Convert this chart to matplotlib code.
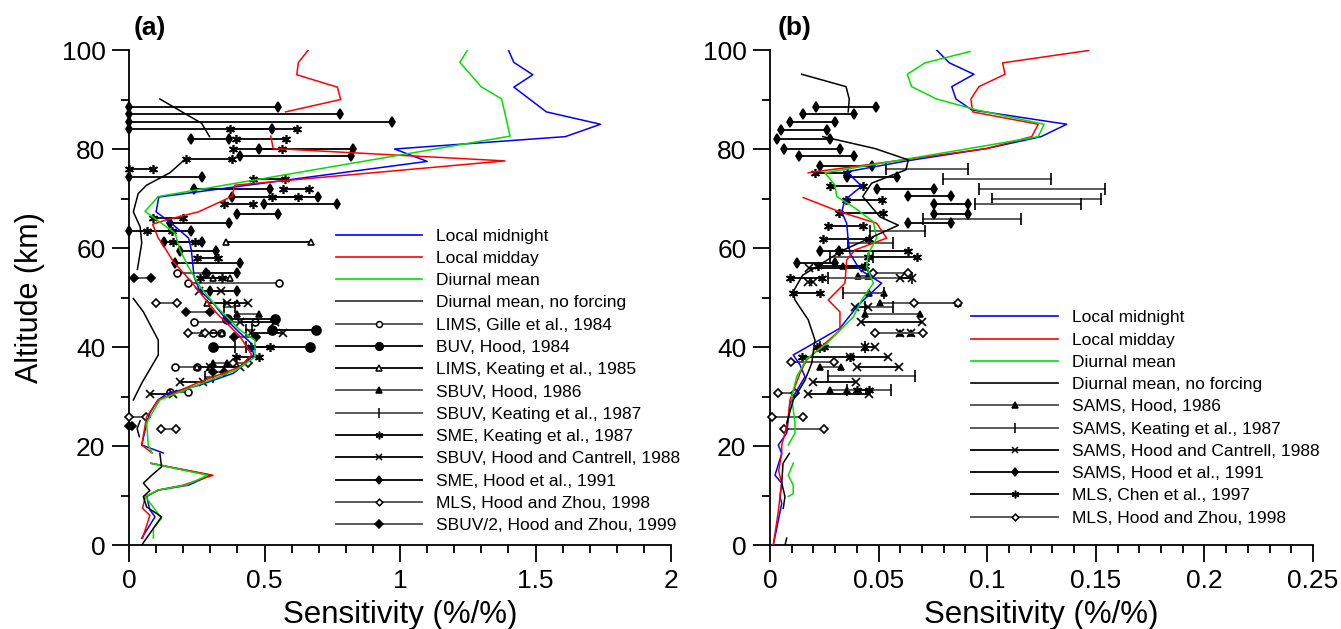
import numpy as np
import matplotlib.pyplot as plt
from matplotlib.lines import Line2D

plt.rcParams['font.family'] = ['Liberation Sans', 'DejaVu Sans']

nan = np.nan

# ---- panel (a): model sensitivity profiles (x = %/%, z = km), nan = gap
a_mid_x = [1.40, 1.42, 1.49, 1.42, 1.54, 1.74, 1.61, 0.98, 1.10, 0.11, 0.10, 0.15, 0.22, 0.23, 0.24, 0.26,
           0.31, 0.36, 0.41, 0.45, 0.46, 0.43, 0.385, 0.26, 0.14, 0.107, 0.077, 0.065, 0.047, 0.126, nan,
           0.082, 0.30, 0.22, 0.108, 0.065, 0.077, 0.096, 0.047]
a_mid_z = [100, 97.5, 95, 92.5, 87.5, 85, 82.5, 80, 77.5, 70.3, 67.3, 65.3, 62, 59.6, 54.2, 51.5,
           48.9, 45.5, 42.8, 40.8, 38.4, 36.7, 34.7, 32.3, 30.6, 29.3, 26.7, 24.6, 20.2, 18.6, nan,
           16.5, 14.1, 12.1, 11.1, 9.8, 7.1, 5.7, 1.4]

a_day_x = [0.662, 0.625, 0.619, 0.769, 0.781, 0.578, nan,
           0.523, 0.532, 1.387, 0.391, 0.379, 0.256, 0.139, 0.087, 0.108, 0.127, 0.164, 0.225, 0.324,
           0.41, 0.453, 0.41, 0.25, 0.108, 0.065, 0.047, 0.085, nan,
           0.082, 0.31, 0.20, 0.108, 0.06, 0.05, 0.077, 0.05]
a_day_z = [100, 97.5, 95, 92.5, 90, 87.5, nan,
           82.6, 80.1, 77.6, 72.7, 70.4, 67.3, 65.7, 64.8, 62, 60.5, 57.2, 53.5, 46.8,
           42.1, 38.4, 36, 32.7, 29.3, 25.9, 20.2, 18.6, nan,
           16.5, 14.1, 12.1, 11.1, 9.8, 7.4, 6.0, 1.4]

a_mean_x = [1.249, 1.221, 1.299, 1.375, 1.406, 0.108, 0.059, 0.102, 0.17, 0.188, 0.219, 0.262, 0.324,
            0.41, 0.465, 0.465, 0.397, 0.237, 0.114, 0.077, 0.065, 0.071, 0.085, nan,
            0.082, 0.29, 0.21, 0.108, 0.06, 0.12, 0.09, 0.09]
a_mean_z = [100, 97.5, 92.6, 90.1, 82.6, 70.4, 67.4, 65.7, 63, 59.6, 56.2, 52.2, 48.1,
            43.4, 41.4, 38, 35.4, 32, 29.3, 25.9, 24.6, 20.2, 18.6, nan,
            16.5, 14.1, 12.1, 11.1, 9.8, 5.4, 3.4, 1.4]

a_nof_x = [0.114, 0.268, 0.297, nan,
           0.21, 0.151, 0.065, 0.034, 0.016, 0.041, 0.047, 0.031, nan,
           0.016, 0.053, 0.108, 0.108, 0.047, 0.016, nan,
           0.041, 0.03, 0.038, nan,
           0.114, 0.12, 0.084, 0.053, 0.077, 0.053, 0.065, 0.12, 0.047]
a_nof_z = [90.1, 85.2, 82.5, nan,
           78.1, 75.2, 72.7, 71, 67.3, 64.3, 61, 55.7, nan,
           49.8, 47.1, 41.4, 38.4, 32.7, 29.3, nan,
           25.1, 23.5, 21.9, nan,
           18.5, 15.8, 14.1, 12.5, 11, 9.8, 7.7, 5.7, 0]

# ---- panel (a): observations (altitude, low, high)
a_lims_gille84 = [(55.0, 0.176, 0.284), (53.0, 0.217, 0.553), (45.0, 0.241, 0.465),
                  (42.8, 0.31, 0.34), (35.9, 0.17, 0.25), (31.0, 0.15, 0.219)]
a_buv_hood84 = [(45.6, 0.36, 0.539), (43.4, 0.526, 0.69), (40.1, 0.311, 0.668)]
a_lims_keating85 = [(61.2, 0.357, 0.67), (54.0, 0.31, 0.373), (48.9, 0.287, 0.397),
                    (42.8, 0.27, 0.342), (35.9, 0.25, 0.30)]
a_sbuv_hood86 = [(46.6, 0.397, 0.48), (36.8, 0.31, 0.36)]
a_sbuv_keating87 = [(48.1, 0.35, 0.39), (43.4, 0.43, 0.455), (40.1, 0.39, 0.43), (34.0, 0.28, 0.31)]
a_sme_keating87 = [(84.0, 0.373, 0.619), (82.0, 0.395, 0.578), (80.0, 0.385, 0.563), (78.0, 0.21, 0.379),
                   (76.0, 0.0, 0.09), (74.0, 0.456, 0.576), (72.0, 0.567, 0.665), (70.4, 0.526, 0.625),
                   (68.9, 0.351, 0.459), (66.0, 0.09, 0.198), (63.4, 0.065, 0.158), (61.2, 0.161, 0.244),
                   (58.0, 0.252, 0.33), (54.0, 0.262, 0.342), (40.1, 0.45, 0.52), (37.9, 0.395, 0.481)]
a_sbuv_hc88 = [(51.3, 0.26, 0.338), (48.9, 0.36, 0.438), (45.0, 0.41, 0.54), (42.8, 0.45, 0.57),
               (35.9, 0.3, 0.41), (32.9, 0.188, 0.274), (30.5, 0.077, 0.163)]
a_sme_hood91 = [(88.4, 0.0, 0.548), (87.0, 0.0, 0.778), (85.5, 0.0, 0.97), (84.0, 0.0, 0.527),
                (82.0, 0.229, 0.369), (80.0, 0.478, 0.828), (78.6, 0.41, 0.818), (74.3, 0.0, 0.268),
                (72.0, 0.24, 0.52), (70.4, 0.381, 0.699), (68.9, 0.498, 0.769), (66.8, 0.397, 0.549),
                (65.0, 0.151, 0.369), (63.4, 0.0, 0.229), (61.2, 0.129, 0.268), (59.3, 0.19, 0.32),
                (56.9, 0.17, 0.41), (55.0, 0.284, 0.40), (51.3, 0.30, 0.40)]
a_mls_hz98 = [(48.9, 0.1, 0.176), (42.8, 0.219, 0.28), (36.8, 0.385, 0.44), (25.9, 0.0, 0.062),
              (23.4, 0.118, 0.173)]
a_sbuv2_hz99 = [(54.0, 0.02, 0.08), (47.1, 0.21, 0.30), (42.0, 0.389, 0.467), (35.0, 0.31, 0.35),
                (24.0, 0.0, 0.01)]

# ---- panel (b): model profiles
b_mid_x = [0.0767, 0.0826, 0.0939, 0.0837, 0.0856, 0.0929, 0.1366, 0.1248, 0.0998, 0.063, 0.0353,
           0.0422, 0.0383, 0.0345, 0.033, 0.0353, 0.036, 0.0368, 0.0414, 0.0514, 0.0407, 0.0322,
           0.0215, 0.0107, 0.0138, 0.0161, 0.0115, 0.0092, 0.0084, 0.0077, 0.0038, 0.0054, 0.0023,
           0.0054, 0.0046, 0.0054, 0.0031, 0.0015]
b_mid_z = [100, 97.4, 95.1, 92.6, 90.1, 87.9, 85, 82.5, 80.1, 77.6, 75.4,
           72.5, 71.1, 69.7, 67.3, 65, 61.6, 58.9, 55.6, 52.9, 48.5, 43.8,
           41.1, 38.4, 36.4, 34, 30.6, 28.6, 25.3, 22.6, 20.2, 18.5, 14.1,
           12.5, 9.8, 8.4, 3.4, 0]

b_day_x = [0.1466, 0.1071, 0.1082, 0.0962, 0.0925, 0.0933, 0.1235, 0.1205, 0.0998, 0.0176, nan,
           0.0153, 0.0322, 0.0491, 0.0537, 0.0391, 0.0353, 0.0345, 0.0268, 0.0322, 0.0322, 0.0245,
           0.0169, 0.0138, 0.0092, 0.0084, 0.0069, 0.0054, 0.0054, 0.004, 0.0054, 0.0046, 0.0038, 0.0015]
b_day_z = [99.9, 97.4, 95.1, 92.6, 90.1, 87.5, 85, 82.5, 80.1, 75.2, nan,
           70.2, 67.3, 65, 62, 59.6, 57.6, 52.9, 49.5, 47.1, 43.4, 40.4,
           37.4, 34.7, 29.3, 25.9, 22.6, 20.2, 18.5, 15, 12.5, 9.8, 6.7, 0]

b_mean_x = [0.0921, 0.0714, 0.0632, 0.0652, 0.0767, 0.0951, 0.1262, 0.1235, 0.0998, 0.0253, 0.0299,
            0.0307, 0.0384, 0.0476, 0.0491, 0.0453, 0.0445, 0.0476, 0.0422, 0.0384, 0.0261, 0.0169,
            0.0123, 0.01, 0.0115, 0.0115, 0.0084, nan, 0.0107, 0.0084, 0.0107, 0.0107, 0.0084]
b_mean_z = [99.7, 97.4, 95.1, 92.6, 90.1, 87.9, 85, 82.5, 80.7, 75.2, 72.7,
            70.4, 68.3, 65.3, 62, 58.9, 56.2, 52.9, 49.5, 46.1, 40.7, 37.6,
            34, 30, 24.6, 22.6, 20.2, nan, 16.5, 14.1, 12.1, 10.4, 9.8]

b_nof_x = [0.0146, 0.035, 0.0365, 0.036, nan,
           0.0243, 0.0483, 0.0637, 0.0626, 0.0468, 0.0427, 0.0506, 0.0591, 0.046, 0.0338, 0.025,
           0.015, 0.0107, 0.0115, 0.0176, 0.0207, 0.0192, 0.0161, 0.0107, 0.0077, nan,
           0.0089, 0.006, 0.0054, 0.0069, 0.0061, nan, 0.0077, 0.0069]
b_nof_z = [95.1, 92.6, 90.1, 87.5, nan,
           82.5, 80.1, 77.8, 75.8, 73.1, 70.4, 66.3, 64.6, 62, 59.6, 57.2,
           54.5, 51.2, 49.5, 45.5, 41.4, 36.7, 33.3, 29.3, 24.6, nan,
           18.5, 16.5, 12.5, 9.8, 7.4, nan, 1.4, 0]

# ---- panel (b): observations
b_sams_hood86 = [(56.4, 0.0335, 0.0437), (54.4, 0.0407, 0.045), (51.0, 0.0458, 0.0525),
                 (48.9, 0.0506, 0.0867), (46.6, 0.0437, 0.0691), (42.9, 0.06, 0.065),
                 (40.1, 0.0228, 0.0437), (36.0, 0.0228, 0.0326), (31.3, 0.0276, 0.0356)]
b_sams_keating87 = [(76.0, 0.0534, 0.0913), (74.0, 0.0795, 0.1292), (72.0, 0.0964, 0.1543),
                    (70.0, 0.1023, 0.1524), (68.9, 0.0944, 0.1432), (65.9, 0.0706, 0.1154),
                    (63.5, 0.046, 0.0714), (61.1, 0.036, 0.0568), (58.2, 0.0276, 0.0476),
                    (53.9, 0.0269, 0.0652), (51.0, 0.0338, 0.0525), (48.1, 0.0437, 0.0568),
                    (40.1, 0.0228, 0.0437), (34.1, 0.0269, 0.0668), (31.3, 0.0356, 0.0556)]
b_sams_hc88 = [(56.0, 0.018, 0.0437), (53.9, 0.06, 0.0652), (53.2, 0.0176, 0.02), (48.1, 0.0391, 0.045),
               (45.0, 0.0418, 0.0698), (42.9, 0.060, 0.065), (40.1, 0.0437, 0.0483),
               (38.0, 0.0368, 0.0545), (36.0, 0.040, 0.0595), (33.0, 0.0197, 0.0396),
               (30.5, 0.0176, 0.0457)]
b_sams_hood91 = [(88.4, 0.0212, 0.0488), (87.0, 0.0153, 0.0385), (85.5, 0.0092, 0.0299),
                 (83.8, 0.0049, 0.0264), (82.1, 0.0034, 0.0276), (80.1, 0.0064, 0.0322),
                 (78.6, 0.0134, 0.0385), (76.6, 0.023, 0.0468), (74.4, 0.0353, 0.0586),
                 (72.0, 0.0494, 0.0755), (70.5, 0.0637, 0.0833), (68.9, 0.0755, 0.0913),
                 (66.8, 0.0755, 0.0913), (65.1, 0.0637, 0.0833), (59.3, 0.023, 0.0318),
                 (57.0, 0.0123, 0.030)]
b_mls_chen97 = [(75.2, 0.0207, 0.0356), (72.5, 0.0276, 0.0427), (69.7, 0.0348, 0.0517),
                (67.1, 0.0318, 0.0519), (64.4, 0.0269, 0.0427), (61.8, 0.0245, 0.0456),
                (59.3, 0.0318, 0.0637), (58.2, 0.045, 0.0675), (56.4, 0.0223, 0.0437),
                (53.9, 0.0092, 0.0238), (51.0, 0.0107, 0.023), (40.1, 0.0215, 0.025),
                (38.0, 0.0146, 0.0368), (31.3, 0.04, 0.0457)]
b_mls_hz98 = [(55.0, 0.0476, 0.0637), (48.9, 0.0664, 0.0867), (42.9, 0.0483, 0.0706),
              (36.9, 0.0097, 0.0296), (30.8, 0.0038, 0.0115), (25.9, 0.0008, 0.0151),
              (23.4, 0.0066, 0.0249)]

BLUE, RED, GREEN = '#0000ff', '#ff0000', '#00e000'
GREY = '#4d4d4d'

# marker styles: (marker, size, face, line colour)
st_lims_gille = ('o', 5, 'white', GREY)
st_buv = ('o', 6.5, 'black', 'black')
st_lims_keat = ('^', 5, 'white', 'black')
st_tri = ('^', 5, 'black', GREY)
st_bar = ('|', 8, 'black', GREY)
st_ast = ((6, 2, 0), 6.5, 'black', 'black')
st_x = ('x', 5.5, 'black', 'black')
st_dia = ('d', 5, 'black', 'black')
st_odia = ('D', 4, 'white', GREY)
st_fdia = ('D', 4.5, 'black', GREY)


def draw_obs(ax, rows, st):
    m, ms, fc, lc = st
    for z, lo, hi in rows:
        ax.plot([lo, hi], [z, z], color=lc, lw=1.3, marker=m, ms=ms, mfc=fc,
                mec='black', mew=1.2, clip_on=False, zorder=3)


def handle(st):
    m, ms, fc, lc = st
    return Line2D([], [], color=lc, lw=1.3, marker=m, ms=ms * 0.85, mfc=fc, mec='black', mew=1.1)


def style_axes(ax, xmax, xmajor, xminor):
    ax.set_xlim(0, xmax)
    ax.set_ylim(0, 100)
    ax.spines['top'].set_visible(False)
    ax.spines['right'].set_visible(False)
    for s in ('left', 'bottom'):
        ax.spines[s].set_linewidth(1.3)
    ax.set_xticks(np.arange(0, xmax + 1e-9, xmajor))
    ax.set_xticks(np.arange(0, xmax + 1e-9, xminor), minor=True)
    ax.set_yticks(np.arange(0, 101, 20))
    ax.set_yticks(np.arange(10, 100, 20), minor=True)
    ax.tick_params(which='major', direction='out', length=12, width=1.3, labelsize=19, pad=5)
    ax.tick_params(which='minor', direction='out', length=6, width=1.3)
    ax.set_xlabel('Sensitivity (%/%)', fontsize=22.5)
    ax.xaxis.set_label_coords(0.5, -0.112)


fig = plt.figure(figsize=(13.41, 6.29), dpi=100)
ax1 = fig.add_axes([0.0962, 0.1335, 0.4042, 0.787])
ax2 = fig.add_axes([0.5742, 0.1335, 0.4049, 0.787])

# panel (a)
style_axes(ax1, 2, 0.5, 0.1)
ax1.set_xticklabels(['0', '0.5', '1', '1.5', '2'])
ax1.set_ylabel('Altitude (km)', fontsize=22)
ax1.yaxis.set_label_coords(-0.155, 0.5)
for rows, st in [(a_lims_gille84, st_lims_gille), (a_buv_hood84, st_buv), (a_lims_keating85, st_lims_keat),
                 (a_sbuv_hood86, st_tri), (a_sbuv_keating87, st_bar), (a_sme_keating87, st_ast),
                 (a_sbuv_hc88, st_x), (a_sme_hood91, st_dia), (a_mls_hz98, st_odia),
                 (a_sbuv2_hz99, st_fdia)]:
    draw_obs(ax1, rows, st)
ax1.plot(a_mid_x, a_mid_z, color=BLUE, lw=1.1, zorder=4)
ax1.plot(a_day_x, a_day_z, color=RED, lw=1.1, zorder=4)
ax1.plot(a_mean_x, a_mean_z, color=GREEN, lw=1.1, zorder=4)
ax1.plot(a_nof_x, a_nof_z, color='black', lw=1.1, zorder=4)

h1 = [Line2D([], [], color=BLUE, lw=1.2), Line2D([], [], color=RED, lw=1.2),
      Line2D([], [], color=GREEN, lw=1.2), Line2D([], [], color=GREY, lw=1.4),
      handle(st_lims_gille), handle(st_buv), handle(st_lims_keat), handle(st_tri), handle(st_bar),
      handle(st_ast), handle(st_x), handle(st_dia), handle(st_odia), handle(st_fdia)]
l1 = ['Local midnight', 'Local midday', 'Diurnal mean', 'Diurnal mean, no forcing',
      'LIMS, Gille et al., 1984', 'BUV, Hood, 1984', 'LIMS, Keating et al., 1985', 'SBUV, Hood, 1986',
      'SBUV, Keating et al., 1987', 'SME, Keating et al., 1987', 'SBUV, Hood and Cantrell, 1988',
      'SME, Hood et al., 1991', 'MLS, Hood and Zhou, 1998', 'SBUV/2, Hood and Zhou, 1999']
ax1.legend(h1, l1, loc='upper left', bbox_to_anchor=(0.365, 0.657), frameon=False, fontsize=12.5,
           numpoints=1, handlelength=5.0, handletextpad=0.8, labelspacing=0.41, borderpad=0)

# panel (b)
style_axes(ax2, 0.25, 0.05, 0.01)
ax2.set_xticklabels(['0', '0.05', '0.1', '0.15', '0.2', '0.25'])
for rows, st in [(b_sams_hood86, st_tri), (b_sams_keating87, st_bar), (b_sams_hc88, st_x),
                 (b_sams_hood91, st_dia), (b_mls_chen97, st_ast), (b_mls_hz98, st_odia)]:
    draw_obs(ax2, rows, st)
ax2.plot(b_mid_x, b_mid_z, color=BLUE, lw=1.1, zorder=4)
ax2.plot(b_day_x, b_day_z, color=RED, lw=1.1, zorder=4)
ax2.plot(b_mean_x, b_mean_z, color=GREEN, lw=1.1, zorder=4)
ax2.plot(b_nof_x, b_nof_z, color='black', lw=1.1, zorder=4)

h2 = [Line2D([], [], color=BLUE, lw=1.2), Line2D([], [], color=RED, lw=1.2),
      Line2D([], [], color=GREEN, lw=1.2), Line2D([], [], color='black', lw=1.2),
      handle(st_tri), handle(st_bar), handle(st_x), handle(st_dia), handle(st_ast), handle(st_odia)]
l2 = ['Local midnight', 'Local midday', 'Diurnal mean', 'Diurnal mean, no forcing',
      'SAMS, Hood, 1986', 'SAMS, Keating et al., 1987', 'SAMS, Hood and Cantrell, 1988',
      'SAMS, Hood et al., 1991', 'MLS, Chen et al., 1997', 'MLS, Hood and Zhou, 1998']
ax2.legend(h2, l2, loc='upper left', bbox_to_anchor=(0.355, 0.492), frameon=False, fontsize=12.5,
           numpoints=1, handlelength=5.0, handletextpad=0.8, labelspacing=0.41, borderpad=0)

fig.text(0.1, 0.955, '(a)', fontsize=19, fontweight='bold', va='center')
fig.text(0.58, 0.955, '(b)', fontsize=19, fontweight='bold', va='center')

fig.savefig('out.png', dpi=100)
